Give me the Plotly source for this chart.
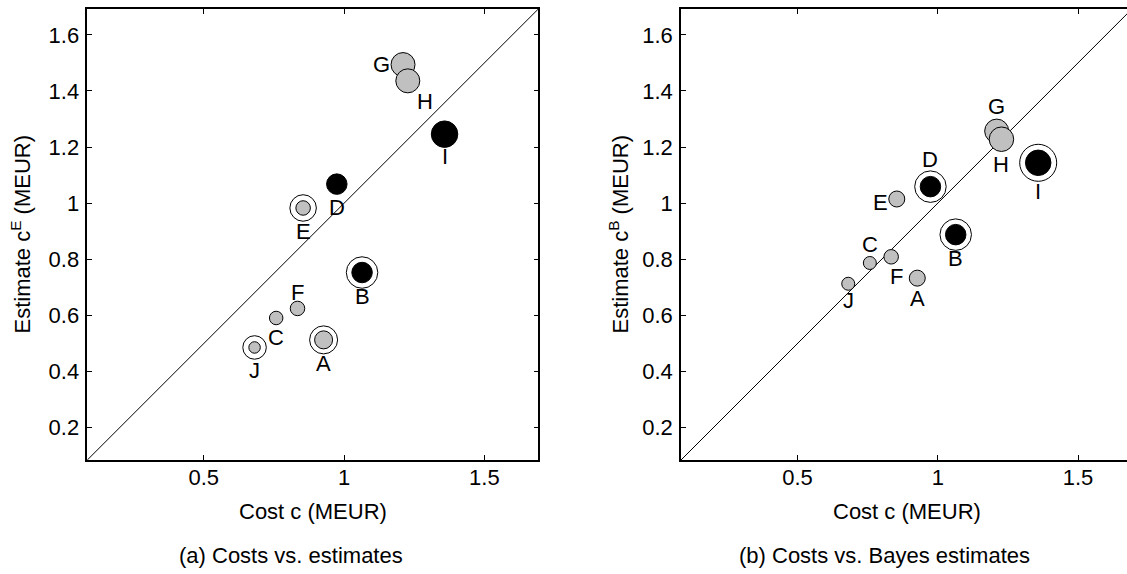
import plotly.graph_objects as go

W, H = 1127, 574

# Projects A..J
names = ["A", "B", "C", "D", "E", "F", "G", "H", "I", "J"]
cost = [0.927, 1.064, 0.758, 0.974, 0.854, 0.834, 1.210, 1.227, 1.358, 0.681]
estimate = [0.513, 0.753, 0.591, 1.068, 0.983, 0.625, 1.494, 1.436, 1.246, 0.486]
bayes_estimate = [0.733, 0.888, 0.787, 1.059, 1.015, 0.809, 1.257, 1.228, 1.144, 0.713]

# Marker appearance per project: fill colour, diameter, and optional ring diameter
GRAY, BLACK = "#c0c0c0", "#000000"
fill_a = [GRAY, BLACK, GRAY, BLACK, GRAY, GRAY, GRAY, GRAY, BLACK, GRAY]
size_a = [18, 20.5, 13.5, 20.5, 14.5, 14.5, 24, 24, 26.5, 11.5]
ring_a = [28, 31.5, None, None, 26.5, None, None, None, None, 23.5]

fill_b = [GRAY, BLACK, GRAY, BLACK, GRAY, GRAY, GRAY, GRAY, BLACK, GRAY]
size_b = [16, 20.5, 13, 20.5, 16, 14.5, 24, 24.5, 25.5, 13]
ring_b = [None, 31.5, None, 31.5, None, None, None, None, 37, None]

# Label offsets in pixels (dx, dy with dy positive = upwards)
lab_a = [(0, -24), (0, -24), (0, -20), (0, -23), (0, -24), (0, 16), (-22, 0), (17, -21), (0, -22), (0, -23)]
lab_b = [(0, -20), (0, -24), (0, 18), (0, 27), (-16, -3), (5, -20), (0, 25), (0, -25), (0, -29), (0, -17)]

LO, HI = 0.085, 1.692
FONT = "Liberation Sans, Arial, Helvetica, sans-serif"
FS = 22

# Subplot boxes in pixels
box_a = dict(x0=87.3, x1=538.3, y0=9, y1=460)
box_b = dict(x0=681, x1=1127, y0=9, y1=460)
x_end_b = LO + (box_b["x1"] - box_b["x0"]) / 280.6


def px(x):
    return x / W


def py(y):
    return 1 - y / H


fig = go.Figure()


def add_panel(xa, ya, yvals, fills, sizes, rings, labels):
    xref, yref = xa, ya
    # identity line
    fig.add_trace(go.Scatter(x=[LO, HI], y=[LO, HI], mode="lines",
                             line=dict(color="black", width=1),
                             xaxis=xref, yaxis=yref, hoverinfo="skip", showlegend=False))
    # rings first, underneath
    rx = [c for c, r in zip(cost, rings) if r]
    ry = [v for v, r in zip(yvals, rings) if r]
    rs = [r for r in rings if r]
    fig.add_trace(go.Scatter(x=rx, y=ry, mode="markers",
                             marker=dict(size=rs, color="white", opacity=1,
                                         line=dict(color="black", width=1)),
                             xaxis=xref, yaxis=yref, showlegend=False))
    # larger markers drawn first so small ones stay on top
    order = sorted(range(len(names)), key=lambda i: -sizes[i])
    order = sorted(order, key=lambda i: names[i] != "G")
    fig.add_trace(go.Scatter(x=[cost[i] for i in order], y=[yvals[i] for i in order],
                             mode="markers",
                             marker=dict(size=[sizes[i] for i in order],
                                         color=[fills[i] for i in order], opacity=1,
                                         line=dict(color="black", width=1)),
                             xaxis=xref, yaxis=yref, showlegend=False))
    for n, xv, yv, (dx, dy) in zip(names, cost, yvals, labels):
        fig.add_annotation(x=xv, y=yv, xref=xref, yref=yref, text=n, showarrow=False,
                           xshift=dx, yshift=dy, font=dict(family=FONT, size=FS, color="black"))


add_panel("x", "y", estimate, fill_a, size_a, ring_a, lab_a)
add_panel("x2", "y2", bayes_estimate, fill_b, size_b, ring_b, lab_b)

axis_common = dict(showgrid=False, zeroline=False, showline=True, linecolor="black", linewidth=1.5,
                   ticks="inside", ticklen=5, tickcolor="black", tickwidth=1,
                   tickfont=dict(family=FONT, size=FS, color="black"))

xticks = [0.5, 1, 1.5]
xticktext = ["0.5", "1", "1.5"]
yticks = [0.2, 0.4, 0.6, 0.8, 1.0, 1.2, 1.4, 1.6]
yticktext = ["0.2", "0.4", "0.6", "0.8", "1", "1.2", "1.4", "1.6"]

fig.update_layout(
    width=W, height=H, margin=dict(l=0, r=0, t=0, b=0),
    paper_bgcolor="white", plot_bgcolor="white",
    xaxis=dict(domain=[px(box_a["x0"]), px(box_a["x1"])], range=[LO, HI], anchor="y",
               mirror="ticks", tickvals=xticks, ticktext=xticktext, ticklabelstandoff=-3, **axis_common),
    yaxis=dict(domain=[py(box_a["y1"]), py(box_a["y0"])], range=[LO, HI], anchor="x",
               mirror="ticks", tickvals=yticks, ticktext=yticktext, ticklabelstandoff=2, **axis_common),
    xaxis2=dict(domain=[px(box_b["x0"]), 1.0], range=[LO, x_end_b], anchor="y2",
                mirror="ticks", tickvals=xticks, ticktext=xticktext, ticklabelstandoff=-3, **axis_common),
    yaxis2=dict(domain=[py(box_b["y1"]), py(box_b["y0"])], range=[LO, HI], anchor="x2",
                mirror=False, tickvals=yticks, ticktext=yticktext, ticklabelstandoff=2, **axis_common),
)

# Axis titles and captions
txt = dict(family=FONT, size=FS, color="black")
center_a = (box_a["x0"] + box_a["x1"]) / 2
center_b = (box_b["x0"] + box_b["x0"] + 451) / 2
for cx, ylab_x, ylab, cap in [
    (center_a, 21, "Estimate c<sup>E</sup> (MEUR)", "(a) Costs vs. estimates"),
    (center_b, 619, "Estimate c<sup>B</sup> (MEUR)", "(b) Costs vs. Bayes estimates"),
]:
    fig.add_annotation(x=px(cx), y=py(511), xref="paper", yref="paper", text="Cost c (MEUR)",
                       showarrow=False, xanchor="center", yanchor="middle", font=txt)
    fig.add_annotation(x=px(cx - 22), y=py(555), xref="paper", yref="paper", text=cap,
                       showarrow=False, xanchor="center", yanchor="middle", font=txt)
    fig.add_annotation(x=px(ylab_x), y=py(234.5), xref="paper", yref="paper", text=ylab,
                       showarrow=False, xanchor="center", yanchor="middle", textangle=-90, font=txt)

fig.write_html("out.html")
